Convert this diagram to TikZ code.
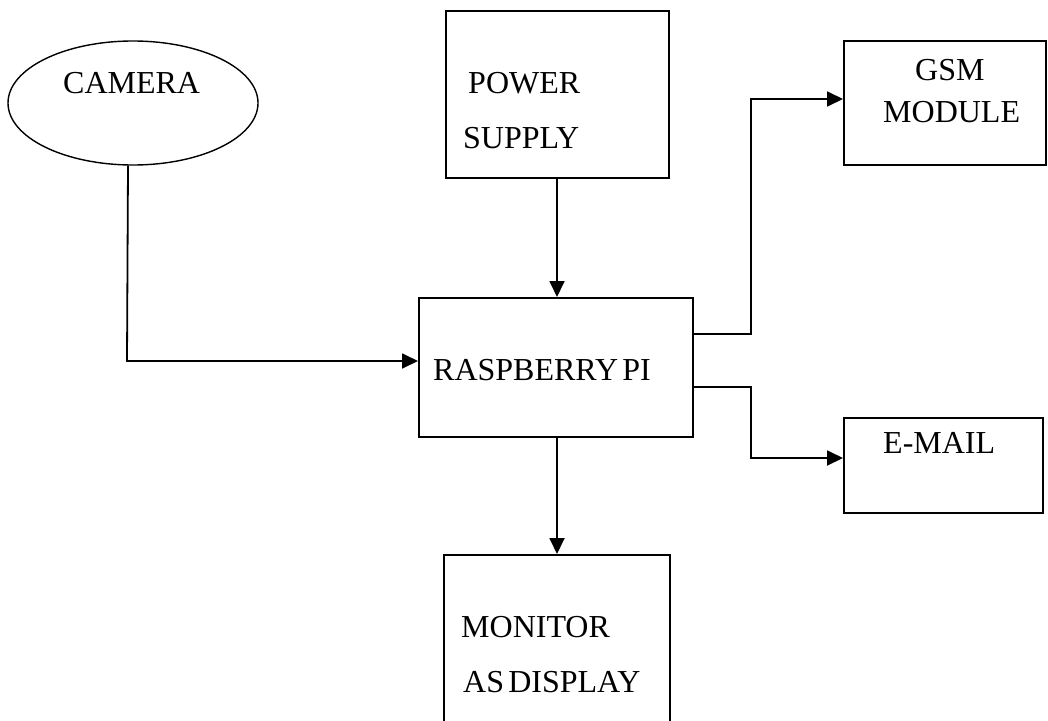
\documentclass[tikz,border=0pt]{standalone}
\usepackage{fontspec}
\setmainfont{Liberation Serif}
\usetikzlibrary{arrows.meta,shapes.geometric}
\begin{document}
\begin{tikzpicture}[x=1pt,y=-1pt,
  blk/.style={draw, line width=1.8pt, inner sep=0pt, anchor=north west},
  lbl/.style={inner sep=0pt, anchor=base west, font=\fontsize{32}{32}\selectfont},
  conn/.style={line width=1.8pt, -{Triangle[length=16pt,width=15pt]}}]
\useasboundingbox (0,0) rectangle (1048,720);
\fill[white] (0,0) rectangle (1048,720);
\clip (0,0) rectangle (1048,720);
% shapes
\node[draw, line width=1.4pt, ellipse, minimum width=250pt, minimum height=124pt, inner sep=0pt] (cam) at (133,103) {};
\node[blk, minimum width=223pt, minimum height=167pt] (pow) at (445,10) {};
\node[blk, minimum width=202pt, minimum height=124pt] (gsm) at (843,40) {};
\node[blk, minimum width=274pt, minimum height=139pt] (rpi) at (418,297) {};
\node[blk, minimum width=199pt, minimum height=95pt] (mail) at (843,417) {};
\node[blk, minimum width=226pt, minimum height=200pt] (mon) at (443,554) {};
% labels
\node[lbl] (tcam) at (63,93) {CAMERA};
\node[lbl] (tpow1) at (468,93) {POWER};
\node[lbl] (tpow2) at (463,148) {SUPPLY};
\node[lbl] (tgsm1) at (915,80) {GSM};
\node[lbl] (tgsm2) at (883,122) {MODULE};
\node[lbl] (trpi) at (433,380) {RASPBERRY\hspace{-0.12em} PI};
\node[lbl] (tmail) at (883,453) {E-MAIL};
\node[lbl] (tmon1) at (461,637) {MONITOR};
\node[lbl] (tmon2) at (463,692) {AS\hspace{-0.12em} DISPLAY};
% connectors
\coordinate (c1) at (127,361);
\draw[conn] ([xshift=-5pt]cam.south) -- (c1) -- (rpi.west |- c1);
\coordinate (p1) at (557,177);
\draw[conn] (pow.south -| p1) -- (rpi.north -| p1);
\coordinate (g1) at (751,334);
\coordinate (g2) at (751,99);
\draw[conn] (rpi.east |- g1) -- (g1) -- (g2) -- (gsm.west |- g2);
\coordinate (e1) at (751,387);
\coordinate (e2) at (751,458);
\draw[conn] (rpi.east |- e1) -- (e1) -- (e2) -- (mail.west |- e2);
\coordinate (m1) at (557,436);
\draw[conn] (m1) -- (mon.north -| m1);
\end{tikzpicture}
\end{document}
